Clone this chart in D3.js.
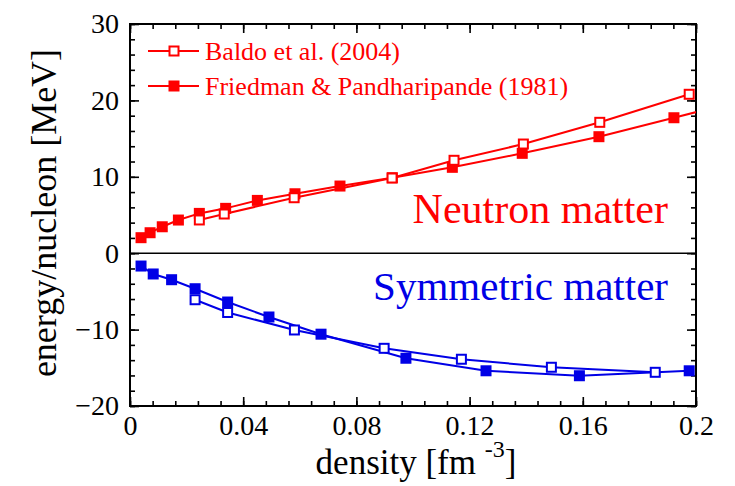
<!DOCTYPE html>
<html>
<head>
<meta charset="utf-8">
<script src="https://d3js.org/d3.v7.min.js"></script>
<style>
body { margin: 0; background: #fff; }
</style>
</head>
<body>
<svg width="735" height="486"></svg>
<script>
// neutron matter, Friedman & Pandharipande (1981), filled squares
var nFPx = [0.0039, 0.0071, 0.0114, 0.0171, 0.0245, 0.0338, 0.045, 0.0583, 0.0742, 0.0927, 0.1139, 0.1386, 0.1657, 0.1922, 0.2237]
var nFPy = [2.03, 2.68, 3.46, 4.34, 5.21, 5.87, 6.91, 7.78, 8.79, 9.88, 11.24, 13.07, 15.25, 17.73, 20.7]
// neutron matter, Baldo et al. (2004), open squares
var nBx = [0.0245, 0.0333, 0.058, 0.0926, 0.1145, 0.139, 0.166, 0.1976]
var nBy = [4.35, 5.13, 7.26, 9.84, 12.16, 14.29, 17.13, 20.8]
// symmetric matter, FP filled
var sFPx = [0.0039, 0.0082, 0.0147, 0.023, 0.0345, 0.0491, 0.0675, 0.0975, 0.1258, 0.1588, 0.1976]
var sFPy = [-1.68, -2.72, -3.47, -4.65, -6.39, -8.35, -10.6, -13.75, -15.39, -16.04, -15.39]
// symmetric matter, Baldo open
var sBx = [0.023, 0.0345, 0.0581, 0.0898, 0.1171, 0.1489, 0.1856]
var sBy = [-6.09, -7.76, -10.05, -12.45, -13.88, -14.93, -15.59]

var xTicks = [0, 0.04, 0.08, 0.12, 0.16, 0.2]
var xTickLabels = ["0", "0.04", "0.08", "0.12", "0.16", "0.2"]
var yTicks = [-20, -10, 0, 10, 20, 30]
var legendNames = ["Baldo et al. (2004)", "Friedman & Pandharipande (1981)"]

var red = "#ff0000", blue = "#0000e6"
var serif = "'Liberation Serif', 'DejaVu Serif', serif"

var svg = d3.select("svg")
var L = 130, R = 696, T = 24, B = 406

var x = d3.scaleLinear().domain([0, 0.2]).range([L, R])
var y = d3.scaleLinear().domain([-20, 30]).range([B, T])

var xMinor = d3.range(0, 0.2001, 0.008)
var yMinor = d3.range(-20, 30.001, 2)

svg.append("clipPath").attr("id", "plotclip")
	.append("rect").attr("x", L).attr("y", T).attr("width", R - L).attr("height", B - T)

// axes
function drawAxis(axis, tr, labels) {
	var g = svg.append("g").attr("transform", tr).call(axis)
	g.select(".domain").remove()
	g.attr("font-family", serif).attr("font-size", 28)
	g.selectAll("line").attr("stroke", "#000").attr("stroke-width", 1.6)
	g.selectAll("text").attr("fill", "#000")
	if (!labels) g.selectAll("text").remove()
	return g
}
drawAxis(d3.axisBottom(x).tickValues(xMinor).tickSize(-5).tickFormat(""), "translate(0," + B + ")", false)
drawAxis(d3.axisBottom(x).tickValues(xTicks).tickSize(-9).tickPadding(9)
	.tickFormat(function(d, i) { return xTickLabels[i] }), "translate(0," + B + ")", true)
drawAxis(d3.axisTop(x).tickValues(xMinor).tickSize(-5).tickFormat(""), "translate(0," + T + ")", false)
drawAxis(d3.axisTop(x).tickValues(xTicks).tickSize(-9).tickFormat(""), "translate(0," + T + ")", false)
drawAxis(d3.axisLeft(y).tickValues(yMinor).tickSize(-5).tickFormat(""), "translate(" + L + ",0)", false)
drawAxis(d3.axisLeft(y).tickValues(yTicks).tickSize(-9).tickPadding(11), "translate(" + L + ",0)", true)
drawAxis(d3.axisRight(y).tickValues(yMinor).tickSize(-5).tickFormat(""), "translate(" + R + ",0)", false)
drawAxis(d3.axisRight(y).tickValues(yTicks).tickSize(-9).tickFormat(""), "translate(" + R + ",0)", false)

svg.append("rect").attr("x", L).attr("y", T).attr("width", R - L).attr("height", B - T)
	.attr("fill", "none").attr("stroke", "#000").attr("stroke-width", 2)

// zero line
svg.append("line").attr("x1", L).attr("x2", R).attr("y1", y(0)).attr("y2", y(0))
	.attr("stroke", "#000").attr("stroke-width", 1.5)

// axis titles
svg.append("text").attr("transform", "translate(56," + ((T + B) / 2 - 2) + ") rotate(-90)")
	.attr("font-family", serif).attr("font-size", 36)
	.attr("text-anchor", "middle").text("energy/nucleon [MeV]")
var xt = svg.append("text").attr("x", (L + R) / 2 + 3).attr("y", 474)
	.attr("font-family", serif).attr("font-size", 35)
	.attr("text-anchor", "middle")
xt.append("tspan").text("density [fm ")
xt.append("tspan").attr("dy", -17).attr("font-size", 24).text("-3")
xt.append("tspan").attr("dy", 17).text("]")

// series
var line = d3.line().x(function(d) { return x(d[0]) }).y(function(d) { return y(d[1]) })
function series(xs, ys, color, open) {
	var pts = d3.zip(xs, ys)
	svg.append("path").datum(pts).attr("d", line).attr("clip-path", "url(#plotclip)")
		.attr("fill", "none").attr("stroke", color).attr("stroke-width", 2)
	var s = open ? 9 : 11
	svg.append("g").attr("clip-path", "url(#plotclip)").selectAll("rect").data(pts).enter().append("rect")
		.attr("x", function(d) { return x(d[0]) - s / 2 })
		.attr("y", function(d) { return y(d[1]) - s / 2 })
		.attr("width", s).attr("height", s)
		.attr("fill", open ? "#fff" : color)
		.attr("stroke", color).attr("stroke-width", open ? 2 : 0)
}
series(nFPx, nFPy, red, false)
series(nBx, nBy, red, true)
series(sFPx, sFPy, blue, false)
series(sBx, sBy, blue, true)

// legend
var leg = svg.append("g")
leg.selectAll("g").data(legendNames).enter().append("g")
	.attr("transform", function(d, i) { return "translate(0," + (51 + i * 35) + ")" })
	.each(function(d, i) {
		var g = d3.select(this)
		g.append("line").attr("x1", 148).attr("x2", 199).attr("stroke", red).attr("stroke-width", 2)
		var s = i == 0 ? 9 : 11
		g.append("rect").attr("x", 174 - s / 2).attr("y", -s / 2).attr("width", s).attr("height", s)
			.attr("fill", i == 0 ? "#fff" : red).attr("stroke", red).attr("stroke-width", i == 0 ? 2 : 0)
		g.append("text").attr("x", 205).attr("y", 9).attr("font-family", serif).attr("font-size", 26)
			.attr("fill", red).text(d)
	})

// labels
svg.append("text").attr("x", 668).attr("y", 223).attr("text-anchor", "end")
	.attr("font-family", serif).attr("font-size", 42).attr("fill", red).text("Neutron matter")
svg.append("text").attr("x", 668).attr("y", 300).attr("text-anchor", "end")
	.attr("font-family", serif).attr("font-size", 41).attr("fill", blue).text("Symmetric matter")
</script>
</body>
</html>
